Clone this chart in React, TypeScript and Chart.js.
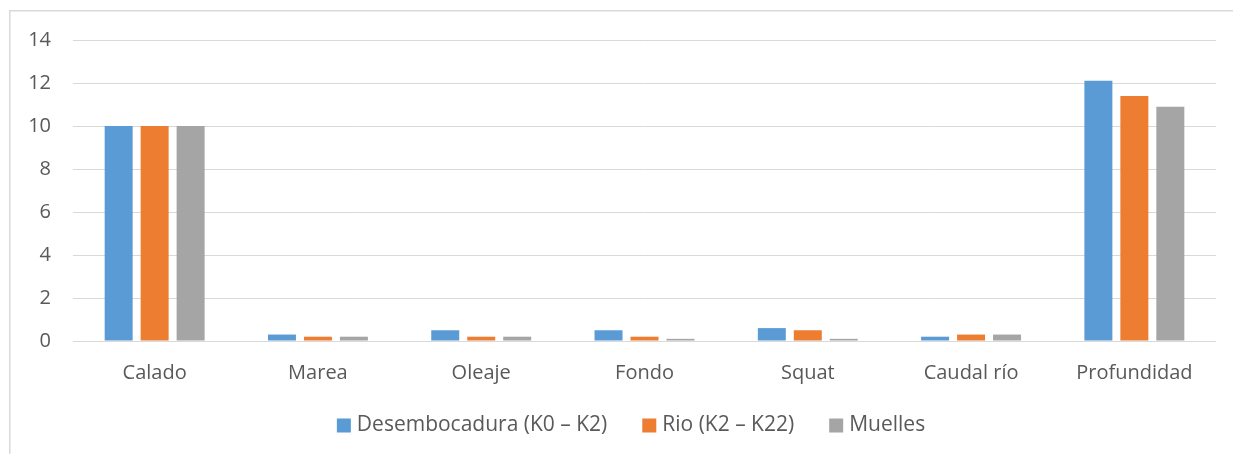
import React, { useEffect, useRef } from "react";
import { Chart, registerables } from "chart.js";

Chart.register(...registerables);

const categories = ["Calado", "Marea", "Oleaje", "Fondo", "Squat", "Caudal río", "Profundidad"];
const seriesNames = ["Desembocadura (K0 – K2)", "Rio (K2 – K22)", "Muelles"];
const desembocadura = [10, 0.3, 0.5, 0.5, 0.6, 0.2, 12.1];
const rio = [10, 0.2, 0.2, 0.2, 0.5, 0.3, 11.4];
const muelles = [10, 0.2, 0.2, 0.1, 0.1, 0.3, 10.9];
const seriesColors = ["#5B9BD5", "#ED7D31", "#A5A5A5"];
const yMin = 0;
const yMax = 14;
const yStep = 2;

const FONT = "'Open Sans', 'Noto Sans', sans-serif";
const TEXT = "#595959";
const GRID = "#d9d9d9";

const frame = {
  id: "frame",
  beforeDraw(chart: any) {
    const ctx = chart.ctx;
    ctx.save();
    ctx.fillStyle = "#ffffff";
    ctx.fillRect(0, 0, chart.width, chart.height);
    ctx.strokeStyle = GRID;
    ctx.lineWidth = 1.5;
    ctx.beginPath();
    ctx.moveTo(9.75, chart.height);
    ctx.lineTo(9.75, 10.75);
    ctx.lineTo(chart.width, 10.75);
    ctx.stroke();
    ctx.restore();
  },
};

const legendBox = {
  id: "legendBox",
  afterDraw(chart: any) {
    const ctx = chart.ctx;
    const box = 14;
    const gap = 6;
    const spacing = 35;
    const centerX = 631;
    const centerY = 425.5;
    ctx.save();
    ctx.font = `21px ${FONT}`;
    ctx.textBaseline = "middle";
    ctx.textAlign = "left";
    const items = chart.data.datasets.map((ds: any) => ({
      label: ds.label as string,
      color: ds.backgroundColor as string,
      w: box + gap + ctx.measureText(ds.label).width,
    }));
    const total = items.reduce((s: number, it: any) => s + it.w, 0) + spacing * (items.length - 1);
    let x = centerX - total / 2;
    items.forEach((it: any) => {
      ctx.fillStyle = it.color;
      ctx.fillRect(x, centerY - box / 2, box, box);
      ctx.fillStyle = TEXT;
      ctx.fillText(it.label, x + box + gap, centerY);
      x += it.w + spacing;
    });
    ctx.restore();
  },
};

export default function App() {
  const ref = useRef<HTMLCanvasElement | null>(null);
  useEffect(() => {
    document.body.style.margin = "0";
    document.body.style.overflow = "hidden";
    if (!ref.current) return;
    const data = [desembocadura, rio, muelles];
    const chart = new Chart(ref.current, {
      type: "bar",
      data: {
        labels: categories,
        datasets: data.map((d, i) => ({
          label: seriesNames[i],
          data: d,
          backgroundColor: seriesColors[i],
          borderWidth: 0,
          categoryPercentage: 0.661,
          barPercentage: 0.778,
        })),
      },
      plugins: [frame, legendBox],
      options: {
        responsive: false,
        animation: false,
        layout: { padding: { left: 0, right: 17, top: 40, bottom: 53 } },
        plugins: {
          tooltip: { enabled: false },
          legend: { display: false },
        },
        scales: {
          x: {
            grid: { display: false, drawTicks: false },
            border: { display: false },
            ticks: { color: TEXT, font: { family: FONT, size: 20 }, padding: 20, maxRotation: 0, autoSkip: false },
            afterFit(scale: any) {
              scale.height = 60;
            },
          },
          y: {
            min: yMin,
            max: yMax,
            grid: { color: GRID, lineWidth: 1, drawTicks: false },
            border: { display: false },
            ticks: { stepSize: yStep, color: TEXT, font: { family: FONT, size: 20 }, padding: 22 },
            afterFit(scale: any) {
              scale.width = 73;
            },
          },
        },
      },
    });
    return () => chart.destroy();
  }, []);
  return (
    <div style={{ width: 1233, height: 454, position: "relative" }}>
      <canvas ref={ref} width={1233} height={454} style={{ display: "block" }} />
    </div>
  );
}
